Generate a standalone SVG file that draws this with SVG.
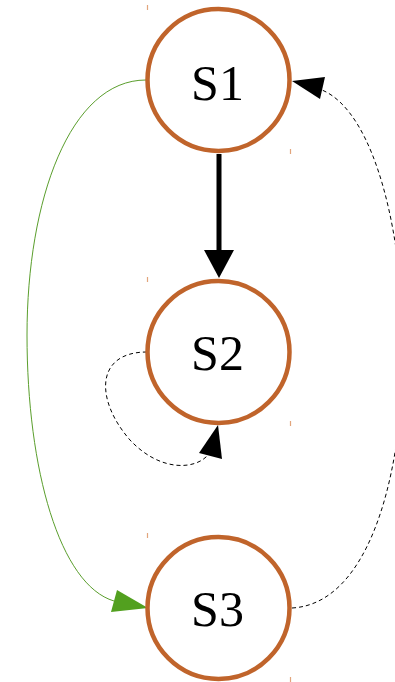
<svg xmlns="http://www.w3.org/2000/svg" width="395" height="682" viewBox="0 0 395 682">
  <style>
    .state circle { fill: #ffffff; stroke: #c0642b; stroke-width: 4.5; }
    .state text { font-family: "Liberation Serif", "DejaVu Serif", serif; font-size: 50px; fill: #000000; text-anchor: middle; }
    .tick { stroke: #e2a57c; stroke-width: 1.2; }
    .dash { fill: none; stroke: #000000; stroke-width: 1; stroke-dasharray: 4 3; }
  </style>
  <rect width="395" height="682" fill="#ffffff"/>

  <!-- connectors -->
  <g id="edges">
    <!-- S1 -> S2 -->
    <line x1="219" y1="154" x2="219" y2="252" stroke="#000000" stroke-width="5"/>
    <polygon points="204,250 234,250 219,278" fill="#000000"/>
    <!-- S1 -> S3 -->
    <path d="M146,80 C70,80 27,200 27,335 C27,470 60,585 114,601" fill="none" stroke="#5a9e2c" stroke-width="1"/>
    <polygon points="117,590 148,608 111,612" fill="#52a01f"/>
    <!-- S2 self-loop -->
    <path class="dash" d="M147,352 C95,352 95,400 130,440 C160,472 195,470 208,455"/>
    <polygon points="218,425 222,459 199,453" fill="#000000"/>
    <!-- S3 -> S1 -->
    <path class="dash" d="M292,608 C440,600 430,135 322,90"/>
    <polygon points="292,81 325,77 320,99" fill="#000000"/>
  </g>

  <!-- states -->
  <g id="S1" class="state">
    <line class="tick" x1="147.5" y1="5" x2="147.5" y2="10"/>
    <line class="tick" x1="290.5" y1="149" x2="290.5" y2="154"/>
    <circle cx="218.5" cy="80" r="71"/>
    <text x="217.5" y="100">S1</text>
  </g>
  <g id="S2" class="state">
    <line class="tick" x1="147.5" y1="277" x2="147.5" y2="282"/>
    <line class="tick" x1="290.5" y1="421" x2="290.5" y2="426"/>
    <circle cx="218.5" cy="352" r="71"/>
    <text x="217.5" y="370">S2</text>
  </g>
  <g id="S3" class="state">
    <line class="tick" x1="147.5" y1="533" x2="147.5" y2="538"/>
    <line class="tick" x1="290.5" y1="677" x2="290.5" y2="682"/>
    <circle cx="218.5" cy="608" r="71"/>
    <text x="217.5" y="626">S3</text>
  </g>
</svg>
